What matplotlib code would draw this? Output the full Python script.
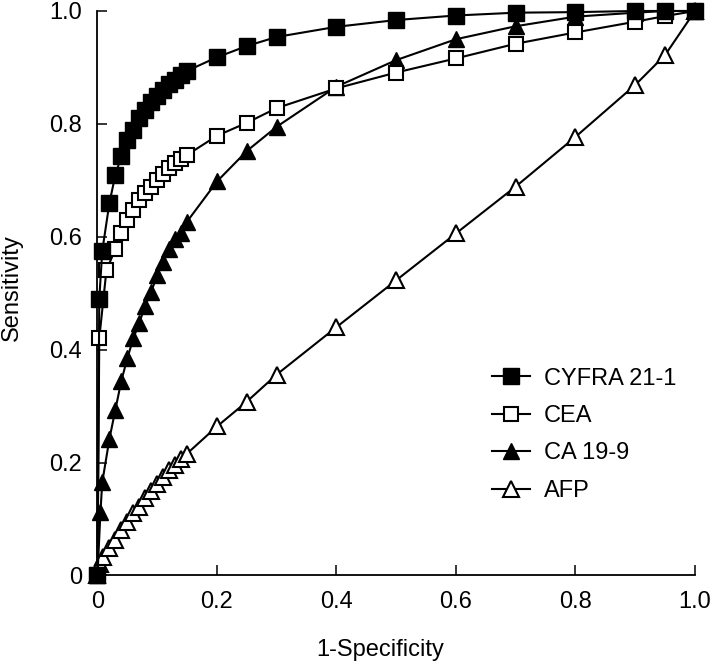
import matplotlib
matplotlib.use("Agg")
import matplotlib.pyplot as plt

plt.rcParams['font.family'] = ['Liberation Sans', 'DejaVu Sans']

# ROC points (x = 1-specificity, y = sensitivity)
cyfra_x = [0, 0.003, 0.008, 0.02, 0.03, 0.04, 0.05, 0.06, 0.07, 0.08, 0.09, 0.10, 0.11, 0.12,
           0.13, 0.14, 0.15, 0.2, 0.25, 0.3, 0.4, 0.5, 0.6, 0.7, 0.8, 0.9, 0.95, 1.0]
cyfra_y = [0, 0.49, 0.575, 0.66, 0.71, 0.743, 0.772, 0.79, 0.81, 0.825, 0.838, 0.85, 0.86, 0.87,
           0.878, 0.886, 0.894, 0.918, 0.938, 0.954, 0.972, 0.984, 0.992, 0.997, 0.998, 1.0, 1.0, 1.0]

cea_x = [0, 0.003, 0.015, 0.03, 0.04, 0.05, 0.06, 0.07, 0.08, 0.09, 0.10, 0.11, 0.12, 0.13,
         0.14, 0.15, 0.2, 0.25, 0.3, 0.4, 0.5, 0.6, 0.7, 0.8, 0.9, 0.95, 1.0]
cea_y = [0, 0.42, 0.541, 0.578, 0.606, 0.63, 0.647, 0.665, 0.677, 0.689, 0.70, 0.712, 0.721, 0.73,
         0.737, 0.745, 0.779, 0.802, 0.828, 0.863, 0.891, 0.916, 0.942, 0.962, 0.981, 0.991, 1.0]

ca199_x = [0, 0.005, 0.008, 0.02, 0.03, 0.04, 0.05, 0.06, 0.07, 0.08, 0.09, 0.10, 0.11, 0.12,
           0.13, 0.14, 0.15, 0.2, 0.25, 0.3, 0.4, 0.5, 0.6, 0.7, 0.8, 0.9, 0.95, 1.0]
ca199_y = [0, 0.113, 0.165, 0.242, 0.294, 0.345, 0.385, 0.42, 0.448, 0.478, 0.503, 0.532, 0.555, 0.578,
           0.596, 0.607, 0.627, 0.698, 0.752, 0.795, 0.866, 0.913, 0.95, 0.973, 0.99, 0.997, 1.0, 1.0]

afp_x = [0, 0.005, 0.01, 0.02, 0.03, 0.04, 0.05, 0.06, 0.07, 0.08, 0.09, 0.10, 0.11, 0.12,
         0.13, 0.14, 0.15, 0.2, 0.25, 0.3, 0.4, 0.5, 0.6, 0.7, 0.8, 0.9, 0.95, 1.0]
afp_y = [0, 0.02, 0.033, 0.048, 0.062, 0.08, 0.095, 0.11, 0.122, 0.137, 0.15, 0.162, 0.174, 0.186,
         0.196, 0.206, 0.216, 0.264, 0.308, 0.356, 0.44, 0.523, 0.606, 0.689, 0.777, 0.869, 0.922, 1.0]

ticks = [0, 0.2, 0.4, 0.6, 0.8, 1.0]
tick_labels = ['0', '0.2', '0.4', '0.6', '0.8', '1.0']

fig = plt.figure(figsize=(7.11, 6.62), dpi=100)
ax = fig.add_axes([0.1371, 0.1307, 0.8404, 0.8527])

lw = 1.5
ax.plot(afp_x, afp_y, '-^', color='black', lw=lw, ms=12, mfc='white', mec='black', mew=1.5,
        label='AFP', clip_on=False, zorder=3)
ax.plot(ca199_x, ca199_y, '-^', color='black', lw=lw, ms=12, mfc='black', mec='black',
        label='CA 19-9', clip_on=False, zorder=4)
ax.plot(cea_x, cea_y, '-s', color='black', lw=lw, ms=10, mfc='white', mec='black', mew=1.5,
        label='CEA', clip_on=False, zorder=5)
ax.plot(cyfra_x, cyfra_y, '-s', color='black', lw=lw, ms=11, mfc='black', mec='black',
        label='CYFRA 21-1', clip_on=False, zorder=6)

ax.set_xlim(0, 1)
ax.set_ylim(0, 1)
ax.set_xticks(ticks)
ax.set_xticklabels(tick_labels)
ax.set_yticks(ticks)
ax.set_yticklabels(tick_labels)
ax.tick_params(direction='in', length=7, width=1.1, labelsize=17, pad=11)

for side in ['top', 'right']:
    ax.spines[side].set_visible(False)
for side in ['left', 'bottom']:
    ax.spines[side].set_linewidth(1.3)

ax.set_xlabel('1-Specificity', fontsize=17, va='center')
ax.xaxis.set_label_coords(0.473, -0.132)
ax.set_ylabel('Sensitivity', fontsize=17, va='center')
ax.yaxis.set_label_coords(-0.144, 0.51)

handles, labels = ax.get_legend_handles_labels()
order = [3, 2, 1, 0]
ax.legend([handles[i] for i in order], [labels[i] for i in order],
          loc='upper left', bbox_to_anchor=(0.66, 0.368), frameon=False,
          fontsize=17, handlelength=1.6, handletextpad=0.6, labelspacing=0.65,
          borderpad=0, borderaxespad=0)

fig.savefig('out.png', dpi=100)
